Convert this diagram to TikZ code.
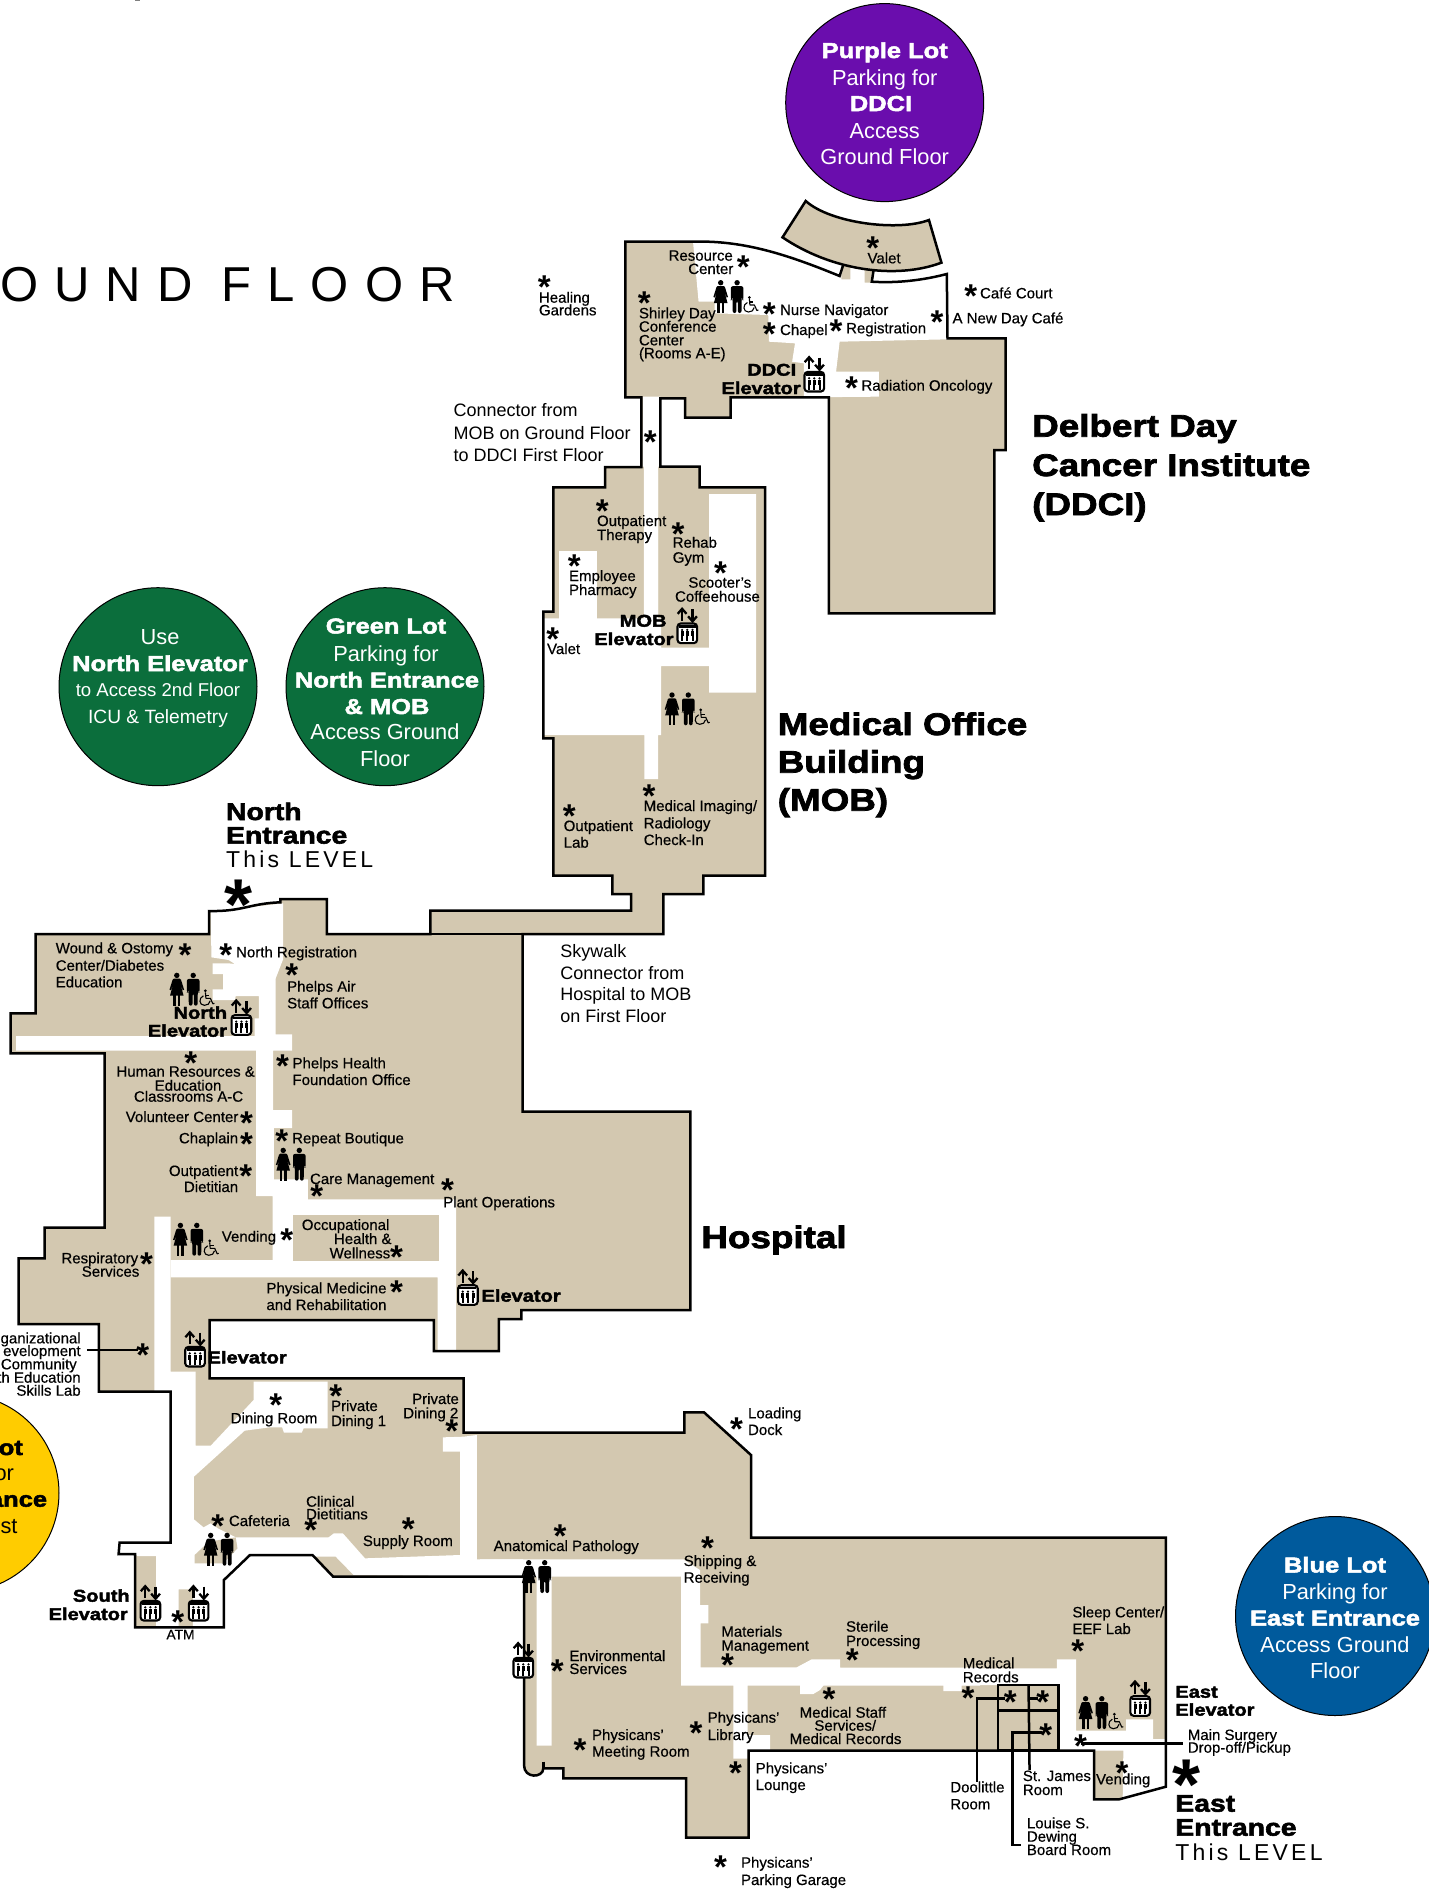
\documentclass[tikz,border=0pt]{standalone}
\usepackage{fontspec}
\setmainfont{Liberation Sans}
\newfontfamily\mapf{Liberation Sans}[FakeBold=0.5]
\newfontfamily\blk{Liberation Sans}[UprightFont=* Bold,FakeBold=2.4,FakeStretch=1.18]
\newfontfamily\starf{Liberation Sans}[UprightFont=* Bold]
\newfontfamily\hdf{Liberation Sans}[LetterSpace=32.5]
\newfontfamily\lvlf{Liberation Sans}[LetterSpace=14]
\definecolor{tan}{HTML}{D3C8B0}
\definecolor{purp}{HTML}{6A0DAD}
\definecolor{grn}{HTML}{0B6E3C}
\definecolor{blu}{HTML}{005A9C}
\definecolor{yel}{HTML}{FFCC00}
\tikzset{
 zA/.style={shift={(520,190)},xscale=0.35714,yscale=0.33333},
 zB/.style={shift={(520,470)},xscale=0.33333,yscale=0.33333},
 zC/.style={shift={(0,880)},xscale=0.35714,yscale=0.33333},
 zD/.style={shift={(0,1240)},xscale=0.35714,yscale=0.33333},
 zE/.style={shift={(480,1400)},xscale=0.33333,yscale=0.33333},
 zF/.style={shift={(900,1540)},xscale=0.33738,yscale=0.33333},
 wall/.style={line width=1.25pt,line join=miter},
 lab/.style={font=\mapf\fontsize{7.5}{9}\selectfont,inner sep=0pt,anchor=base west,text=black},
 labr/.style={lab,anchor=base east},
 blab/.style={font=\blk\fontsize{8.5}{10}\selectfont,inner sep=0pt,anchor=base west},
 hlab/.style={font=\blk\fontsize{15.6}{18}\selectfont,inner sep=0pt,anchor=base west},
 elab/.style={font=\blk\fontsize{12}{14}\selectfont,inner sep=0pt,anchor=base west},
 reg/.style={font=\fontsize{9}{11}\selectfont,inner sep=0pt,anchor=base west},
 starg/.style={font=\starf\fontsize{16.5}{16.5}\selectfont,inner sep=0pt,text height=0pt,text depth=0pt,yshift=-7.6pt,anchor=center},
 bigstar/.style={font=\starf\fontsize{36}{36}\selectfont,inner sep=0pt,text height=0pt,text depth=0pt,yshift=-18pt,anchor=center},
 cbig/.style={font=\blk\fontsize{10.8}{12}\selectfont,text=white,inner sep=0pt,anchor=base},
 creg/.style={font=\fontsize{10.9}{12}\selectfont,text=white,inner sep=0pt,anchor=base},
 woman/.pic={
  \fill (0,2.7) circle[radius=2.7];
  \fill (-3,6) -- (3,6) -- (4.2,7) -- (7.3,17) -- (6,17.5) -- (3.6,11) -- (6.8,23) -- (-6.8,23) -- (-3.6,11) -- (-6,17.5) -- (-7.3,17) -- (-4.2,7) -- cycle;
  \fill (-3.4,22) rectangle (-1,33);
  \fill (1,22) rectangle (3.4,33);
 },
 man/.pic={
  \fill (0,2.7) circle[radius=2.7];
  \fill[rounded corners=1pt] (-6.3,6.2) -- (6.3,6.2) -- (6.3,20) -- (4.9,20) -- (4.7,10) -- (4.4,33) -- (0.7,33) -- (0.7,21) -- (-0.7,21) -- (-0.7,33) -- (-4.4,33) -- (-4.7,10) -- (-4.9,20) -- (-6.3,20) -- cycle;
 },
 wheel/.pic={
  \fill (-1,1.5) circle[radius=1.5];
  \draw[line width=.55pt,line join=round] (-1,3) -- (-0.5,9) -- (4,9) -- (6.5,14.5) -- (8,14);
  \draw[line width=.55pt] (-0.8,6) -- (3,6);
  \draw[line width=.55pt] (-3,6.5) .. controls (-8,8.5) and (-7.5,16) .. (-2,16) .. controls (1,16) and (3.5,14.5) .. (3.8,11.5);
 },
 lift/.pic={
  \draw[line width=1.05pt,fill=white,rounded corners=1.6pt] (-9.8,-9.8) rectangle (9.8,9.8);
  \fill (-8.5,-8.5) rectangle (8.5,-5.8);
  \foreach \q in {-5.2,0,5.2}{
   \fill (\q,-3.4) circle[radius=1.25];
   \fill (\q-1.5,-2) rectangle (\q+1.5,3);
   \fill (\q-1,3) rectangle (\q+1,8);
  }
  \draw[line width=1.15pt] (-5.2,-12.5) -- (-5.2,-24);
  \draw[line width=1.15pt] (-9.6,-19.5) -- (-5.2,-24.5) -- (-.8,-19.5);
  \draw[line width=1.15pt] (5.2,-24) -- (5.2,-12.5);
  \draw[line width=1.15pt] (.8,-17) -- (5.2,-12) -- (9.6,-17);
 },
}
\newcommand\Lb[3]{\node[lab] at (#1,#2) {#3};}
\newcommand\Rb[3]{\node[labr] at (#1,#2) {#3};}
\newcommand\Bk[3]{\node[blab] at (#1,#2) {#3};}
\newcommand\St[2]{\node[starg] at (#1,#2) {*};}
\newcommand\People[3]{\pic at (#1,#3) {woman}; \pic at (#2,#3) {man};}
\def\Outline{(873.6,270) -- (871.8,281.7) .. controls (898.6,283.3) and (923.6,280) .. (946.8,274)
 -- (947.5,338.3) -- (1005.7,338.3) -- (1005.7,450) -- (994.3,450) -- (994.3,613.3) -- (828.9,613.3)
 -- (828.9,397.3) -- (730.7,397.3) -- (730.7,417.7) -- (685,417.7) -- (685,398.3) -- (660.4,398.3)
 -- (660.4,466.7) -- (699.6,466.7) -- (699.6,487.3) -- (765,487.3) -- (765,875.7) -- (703.3,875.7)
 -- (703.3,894) -- (663.3,894) -- (663.3,934) -- (522.6,934) -- (522.6,1111.6) -- (690.4,1111.6)
 -- (690.4,1310) -- (521.4,1310) -- (521.4,1319) -- (498.9,1319) -- (498.9,1351) -- (433.9,1351)
 -- (433.9,1320) -- (209.6,1320) -- (209.6,1378.3) -- (463.6,1378.3) -- (463.6,1432.7) -- (684.3,1432.7)
 -- (684.3,1412.3) -- (704,1412.3) -- (751,1455) -- (751,1537.7) -- (1165.9,1537.7) -- (1165.9,1786.7)
 -- (1119.3,1799.3) -- (1094,1799.3) -- (1094,1750.7) -- (748.7,1750.7) -- (748.7,1837.7) -- (686,1837.7)
 -- (686,1778.3) -- (563.3,1778.3) -- (563.3,1768.3) -- (543.3,1768.3) .. controls (543.3,1778) and (524,1779) .. (524,1765)
 -- (524,1576.7) -- (333.2,1576.7) -- (312.5,1555) -- (250,1555) -- (223.9,1580) -- (223.9,1627.3)
 -- (135,1627.3) -- (135,1554) -- (118.6,1554) -- (119.6,1542.7) -- (170.7,1542.7) -- (170.7,1391.7)
 -- (98.9,1391.7) -- (98.9,1324) -- (18.6,1324) -- (18.6,1258.3) -- (44.6,1258.3) -- (44.6,1227.7)
 -- (104.6,1227.7) -- (104.6,1053.3) -- (10.7,1053.3) -- (10.7,1013.3) -- (35.7,1013.3) -- (35.7,934)
 -- (209,934) -- (209,911) .. controls (242.9,911.7) and (250,903.3) .. (280.4,902.3) -- (280.4,899)
 -- (326.8,899) -- (326.8,934) -- (430.4,934) -- (430.4,910.7) -- (631,910.7) -- (631,894) -- (612.3,894)
 -- (612.3,875.7) -- (553.3,875.7) -- (553.3,738.3) -- (543.3,738.3) -- (543.3,611.7) -- (553.3,611.7)
 -- (553.3,487.3) -- (605,487.3) -- (605,467) -- (641.4,467) -- (641.4,397.3) -- (625.4,397.3)
 -- (625.4,241.7) -- (691.4,241.7) .. controls (741.4,240) and (784.3,253.3) .. (839.6,276) -- (843.2,265)}
\begin{document}
\begin{tikzpicture}[x=.5pt,y=-.5pt]
\path[use as bounding box] (0,0) rectangle (1429,1892);
\begin{scope}
\clip (0,0) rectangle (1429,1892);
\fill[gray] (134.5,0) rectangle (140,1.3);
% circles
\fill[purp] (884.7,102.6) circle[radius=99];
\draw[line width=.5pt] (884.7,102.6) circle[radius=99];
\fill[grn] (158,686.7) circle[radius=99];
\draw[line width=.5pt] (158,686.7) circle[radius=99];
\fill[grn] (385,686.7) circle[radius=99];
\draw[line width=.5pt] (385,686.7) circle[radius=99];
\fill[blu] (1335,1616) circle[radius=99.5];
\draw[line width=.5pt] (1335,1616) circle[radius=99.5];
\fill[yel] (-40,1493) circle[radius=99];
\draw[line width=.5pt] (-40,1493) circle[radius=99];
% building
\fill[tan] \Outline -- cycle;
% corridors
\begin{scope}[zA]
\fill[white] (484,150) -- (900,150) -- (900,268) -- (925,268) -- (925,225) -- (965,225) -- (965,278) -- (985,278) -- (985,250) -- (1197,250) -- (1197,448) -- (895,455) -- (885,545) -- (1005,545) -- (1005,620) -- (795,622) -- (795,520) -- (762,515) -- (770,460) -- (697,455) -- (695,375) -- (545,370) -- (545,335) -- (500,335) -- cycle;
\fill[white] (345,620) -- (393,620) -- (393,830) -- (387,830) -- (387,1300) -- (347,1300) -- (347,830) -- (343,830) -- cycle;
\end{scope}
\begin{scope}[zB]
\fill[white] (117,243) rectangle (231,446);
\fill[white] (72,445) -- (373,445) -- (373,0) -- (414,0) -- (414,445) -- (423,445) -- (423,533) -- (567,533) -- (567,72) -- (708,72) -- (708,668) -- (567,668) -- (567,588) -- (423,588) -- (423,795) -- (414,795) -- (414,927) -- (373,927) -- (373,795) -- (72,795) -- cycle;
\end{scope}
\begin{scope}[zC]
\fill[white] (590,95) -- (793,70) -- (793,237) -- (772,295) -- (772,463) -- (818,463) -- (818,512) -- (765,512) -- (765,690) -- (818,690) -- (818,744) -- (767,744) -- (767,898) -- (862,898) -- (862,958) -- (1277,958) -- (1277,1410) -- (1225,1410) -- (1225,1192) -- (478,1192) -- (478,1140) -- (763,1140) -- (763,948) -- (717,948) -- (717,512) -- (45,512) -- (45,468) -- (713,468) -- (713,415) -- (725,415) -- (725,348) -- (660,348) -- (658,360) -- (595,360) -- (595,328) -- (625,328) -- (625,282) -- (595,282) -- (595,250) -- (640,250) -- (658,252) -- (640,240) -- (592,232) -- cycle;
\fill[tan] (820,1005) rectangle (1228,1143);
\end{scope}
\begin{scope}[zD]
\fill[white] (432,-70) -- (478,-70) -- (478,395) -- (548,395) -- (548,617) -- (590,617) -- (710,480) -- (710,425) -- (917,425) -- (917,565) -- (850,565) -- (845,578) -- (795,578) -- (790,562) -- (755,562) -- (685,572) -- (543,710) -- (543,838) -- (570,862) -- (590,850) -- (610,865) -- (660,892) -- (920,892) -- (935,880) -- (960,880) -- (1022,955) -- (1288,945) -- (1288,635) -- (1240,635) -- (1240,592) -- (1298,590) -- (1335,585) -- (1335,958) -- (1465,958) -- (1465,1010) -- (990,1005) -- (940,950) -- (880,950) -- (875,945) -- (700,945) -- (627,1020) -- (627,1162) -- (540,1160) -- (540,1048) -- (500,1048) -- (500,1160) -- (437,1160) -- (437,948) -- (385,948) -- (378,942) -- (332,942) -- (335,908) -- (478,908) -- (478,455) -- (432,455) -- cycle;
\fill[tan] (660,892) -- (665,925) -- (625,970) -- (545,970) -- (545,945) -- (585,905) -- cycle;
\end{scope}
\begin{scope}[zE]
\fill[white] (0,478) -- (610,478) -- (660,510) -- (660,615) -- (685,615) -- (685,670) -- (662,670) -- (662,802) -- (950,802) -- (995,778) -- (1080,778) -- (1080,803) -- (1500,803) -- (1500,857) -- (1445,857) -- (1445,873) -- (1390,873) -- (1390,857) -- (1030,857) -- (1020,870) -- (1000,882) -- (960,882) -- (960,857) -- (803,857) -- (803,1005) -- (870,1005) -- (870,1050) -- (803,1050) -- (803,1076) -- (760,1076) -- (760,857) -- (603,857) -- (603,530) -- (215,530) -- (215,1037) -- (170,1037) -- (170,530) -- (0,530) -- cycle;
\end{scope}
\begin{scope}[zF]
\fill[white] (0,385) -- (465,385) -- (465,358) -- (522,358) -- (522,572) -- (670,572) -- (670,538) -- (750,538) -- (750,597) -- (788,597) -- (788,740) -- (660,778) -- (662,632) -- (470,632) -- (470,435) -- (0,435) -- cycle;
\end{scope}
% valet island
\begin{scope}[zA]
\draw[wall,fill=tan] (800,33) .. controls (870,100) and (1060,125) .. (1145,90) -- (1180,218) .. controls (1050,270) and (870,240) .. (735,142) -- cycle;
\end{scope}
% walls
\draw[wall] \Outline;
\draw[wall] (430.4,934) -- (522.6,934);
\begin{scope}[zE]
\draw[wall] (190,1085) -- (190,1105);
\end{scope}
\begin{scope}[zF]
\draw[wall] (290,435) rectangle (470,632);
\draw[wall] (290,512) -- (470,512);
\draw[wall] (381,435) -- (384,690);
\draw[wall] (310,475) -- (228,475) -- (228,725);
\draw[wall] (410,475) -- (384,475);
\draw[wall] (420,577) -- (333,577) -- (333,915) -- (360,915);
\draw[wall] (535,610) -- (838,610);
\end{scope}
\begin{scope}[zC]
\draw[wall] (243,1410) -- (385,1410);
\end{scope}
% icons
\People{720.7}{737.1}{280}
\pic at (750.4,296) {wheel};
\People{672}{688.3}{692.3}
\pic at (701.7,708.3) {wheel};
\People{176.8}{193.2}{972.7}
\pic at (206.4,989.3) {wheel};
\People{283.2}{299.3}{1147.7}
\People{180.4}{196.8}{1222.7}
\pic at (210.7,1239.3) {wheel};
\People{210.7}{227.1}{1532.7}
\People{528.7}{544.7}{1560}
\People{1085.6}{1101.8}{1696}
\pic at (1115.3,1712.7) {wheel};
\pic at (814.3,381.7) {lift};
\pic at (687.3,633.3) {lift};
\pic at (241.4,1025) {lift};
\pic at (467.9,1295) {lift};
\pic at (195,1356.7) {lift};
\pic at (150.4,1610.7) {lift};
\pic at (198.6,1610.7) {lift};
\pic at (523.3,1667.7) {lift};
\pic at (1140.2,1706) {lift};
% labels zone A
\begin{scope}[zA]
\Lb{415}{212}{Resource}\Lb{470}{252}{Center}\St{625}{220}
\St{988}{163}\Lb{972}{220}{Valet}
\St{68}{280}\Lb{52}{338}{Healing}\Lb{52}{376}{Gardens}
\St{348}{328}\Lb{332}{385}{Shirley Day}\Lb{332}{425}{Conference}\Lb{332}{466}{Center}\Lb{332}{505}{(Rooms A-E)}
\St{698}{360}\Lb{727}{375}{Nurse Navigator}
\St{698}{420}\Lb{727}{435}{Chapel}
\St{885}{412}\Lb{912}{430}{Registration}
\St{1168}{385}\Lb{1210}{400}{A New Day Café}
\St{1262}{308}\Lb{1287}{325}{Café Court}
\Bk{635}{557}{DDCI}\Bk{563}{612}{Elevator}
\St{928}{583}\Lb{955}{602}{Radiation Oncology}
\St{365}{745}
\node[reg] at (-187,680) {Connector from};
\node[reg] at (-187,748) {MOB on Ground Floor};
\node[reg] at (-187,813) {to DDCI First Floor};
\node[hlab] at (1433,740) {Delbert Day};
\node[hlab] at (1433,858) {Cancer Institute};
\node[hlab] at (1433,975) {(DDCI)};
\end{scope}
% zone B
\begin{scope}[zB]
\St{247}{112}\Lb{230}{168}{Outpatient}\Lb{230}{210}{Therapy}
\St{474}{180}\Lb{457}{233}{Rehab}\Lb{457}{278}{Gym}
\St{602}{298}\Lb{504}{353}{Scooter’s}\Lb{464}{395}{Coffeehouse}
\St{163}{277}\Lb{146}{333}{Employee}\Lb{146}{375}{Pharmacy}
\St{98}{497}\Lb{80}{552}{Valet}
\Bk{298}{470}{MOB}\Bk{222}{525}{Elevator}
\St{387}{967}\Lb{370}{1023}{Medical Imaging/}\Lb{370}{1075}{Radiology}\Lb{370}{1125}{Check-In}
\St{148}{1028}\Lb{130}{1083}{Outpatient}\Lb{130}{1133}{Lab}
\node[hlab] at (772,795) {Medical Office};
\node[hlab] at (772,908) {Building};
\node[hlab] at (772,1022) {(MOB)};
\end{scope}
% zone C
\begin{scope}[zC]
\St{518}{213}\Lb{155}{220}{Wound \& Ostomy}\Lb{155}{272}{Center/Diabetes}\Lb{155}{322}{Education}
\St{632}{213}\Lb{660}{232}{North Registration}
\St{817}{273}\Lb{803}{335}{Phelps Air}\Lb{803}{385}{Staff Offices}
\Bk{485}{416}{North}\Bk{413}{470}{Elevator}
\St{534}{537}\Lb{325}{590}{Human Resources \&}\Lb{432}{632}{Education}\Lb{374}{665}{Classrooms A-C}
\Lb{351}{726}{Volunteer Center}\St{690}{718}
\Lb{500}{790}{Chaplain}\St{690}{780}
\Lb{472}{888}{Outpatient}\Lb{514}{936}{Dietitian}\St{688}{878}
\St{791}{548}\Lb{818}{565}{Phelps Health}\Lb{818}{615}{Foundation Office}
\St{789}{773}\Lb{817}{790}{Repeat Boutique}
\Lb{867}{912}{Care Management}\St{887}{937}
\St{1253}{918}\Lb{1240}{982}{Plant Operations}
\Lb{620}{1085}{Vending}\St{803}{1070}
\Lb{844}{1050}{Occupational}\Lb{934}{1092}{Health \&}\Lb{922}{1135}{Wellness}\St{1110}{1120}
\Lb{171}{1150}{Respiratory}\Lb{228}{1190}{Services}\St{410}{1140}
\Lb{745}{1240}{Physical Medicine}\Lb{745}{1290}{and Rehabilitation}\St{1110}{1225}
\Bk{1347}{1265}{Elevator}
\St{400}{1415}
\end{scope}
% zone D
\begin{scope}[zD]
\Bk{580}{370}{Elevator}
\St{772}{485}\Lb{645}{550}{Dining Room}
\St{940}{458}\Lb{926}{513}{Private}\Lb{926}{558}{Dining 1}
\Lb{1153}{492}{Private}\Lb{1128}{535}{Dining 2}\St{1265}{562}
\Lb{856}{800}{Clinical}\Lb{856}{838}{Dietitians}\St{870}{860}
\St{610}{848}\Lb{640}{858}{Cafeteria}
\St{1143}{855}\Lb{1015}{918}{Supply Room}
\Bk{203}{1085}{South}\Bk{135}{1140}{Elevator}
\St{498}{1135}
\node[lab,font=\mapf\fontsize{6.9}{8}\selectfont] at (465,1198) {ATM};
\Rb{227}{310}{ganizational}\Rb{227}{348}{evelopment}\Rb{216}{388}{Community}\Rb{227}{428}{th Education}\Rb{227}{467}{Skills Lab}
\node[cbig,anchor=base east,text=black] at (65,645) {ot};
\node[creg,anchor=base east,text=black] at (40,722) {or};
\node[cbig,anchor=base east,text=black] at (133,800) {ance};
\node[creg,anchor=base east,text=black] at (50,880) {rst};
\end{scope}
% zone E
\begin{scope}[zE]
\Lb{803}{55}{Loading}\Lb{803}{105}{Dock}\St{770}{75}
\St{240}{397}\Lb{40}{453}{Anatomical Pathology}
\St{683}{432}\Lb{610}{498}{Shipping \&}\Lb{610}{548}{Receiving}
\Lb{723}{710}{Materials}\Lb{723}{752}{Management}\St{743}{785}
\Lb{1097}{695}{Sterile}\Lb{1097}{738}{Processing}\St{1117}{770}
\Lb{267}{783}{Environmental}\Lb{267}{822}{Services}\St{232}{802}
\St{1047}{887}\Lb{958}{953}{Medical Staff}\Lb{1002}{992}{Services/}\Lb{928}{1032}{Medical Records}
\Lb{682}{968}{Physicans’}\Lb{682}{1020}{Library}\St{648}{988}
\Lb{335}{1020}{Physicans’}\Lb{335}{1070}{Meeting Room}\St{300}{1038}
\St{767}{1107}\Lb{826}{1120}{Physicans’}\Lb{826}{1170}{Lounge}
\St{722}{1390}\Lb{782}{1403}{Physicans’}\Lb{782}{1455}{Parking Garage}
\end{scope}
% zone F
\begin{scope}[zF]
\Bk{815}{473}{East}\Bk{815}{527}{Elevator}
\Lb{852}{600}{Main Surgery}\Lb{852}{638}{Drop-off/Pickup}
\Lb{510}{232}{Sleep Center/}\Lb{510}{282}{EEF Lab}\St{527}{322}
\Lb{185}{385}{Medical}\Lb{185}{427}{Records}\St{202}{463}
\St{327}{475}\St{423}{475}\St{432}{575}
\Lb{148}{757}{Doolittle}\Lb{148}{808}{Room}
\Lb{363}{723}{St. James}\Lb{363}{765}{Room}
\Lb{375}{865}{Louise S.}\Lb{375}{905}{Dewing}\Lb{375}{945}{Board Room}
\Lb{580}{733}{Vending}\St{658}{687}
\St{535}{608}
\node[bigstar] at (848,700) {*};
\node[elab] at (815,815) {East};
\node[elab] at (815,887) {Entrance};
\node[font=\lvlf\fontsize{11.5}{13}\selectfont,inner sep=0pt,anchor=base west] at (815,960) {This LEVEL};
\end{scope}
% free headings
\node[font=\hdf\fontsize{24.5}{28}\selectfont,inner sep=0pt,anchor=base west] at (0,301.7) {OUND FLOOR};
\node[elab] at (225.7,820) {North};
\node[elab] at (225.7,843.6) {Entrance};
\node[font=\lvlf\fontsize{11.5}{13}\selectfont,inner sep=0pt,anchor=base west] at (225.7,867.8) {This LEVEL};
\node[bigstar] at (239,893) {*};
\node[hlab] at (701,1248) {Hospital};
\node[reg] at (560,957) {Skywalk};
\node[reg] at (560,979) {Connector from};
\node[reg] at (560,1000.5) {Hospital to MOB};
\node[reg] at (560,1022) {on First Floor};
% circle text
\node[cbig] at (884.7,58) {Purple Lot};
\node[creg] at (884.7,85.5) {Parking for};
\node[cbig] at (881,111) {DDCI};
\node[creg] at (884.7,138.5) {Access};
\node[creg] at (884.7,164) {Ground Floor};
\node[creg] at (160,644.5) {Use};
\node[cbig] at (160,671) {North Elevator};
\node[creg,font=\fontsize{9.3}{11}\selectfont] at (158,696) {to Access 2nd Floor};
\node[creg,font=\fontsize{9.6}{11}\selectfont] at (158,723) {ICU \& Telemetry};
\node[cbig] at (386,633.5) {Green Lot};
\node[creg] at (386,661) {Parking for};
\node[cbig] at (387,687.5) {North Entrance};
\node[cbig] at (387,714) {\& MOB};
\node[creg] at (385,739.5) {Access Ground};
\node[creg] at (385,766) {Floor};
\node[cbig] at (1335,1572.5) {Blue Lot};
\node[creg] at (1335,1599) {Parking for};
\node[cbig] at (1335,1625.5) {East Entrance};
\node[creg] at (1335,1652.5) {Access Ground};
\node[creg] at (1335,1678.5) {Floor};
\end{scope}
\end{tikzpicture}
\end{document}
